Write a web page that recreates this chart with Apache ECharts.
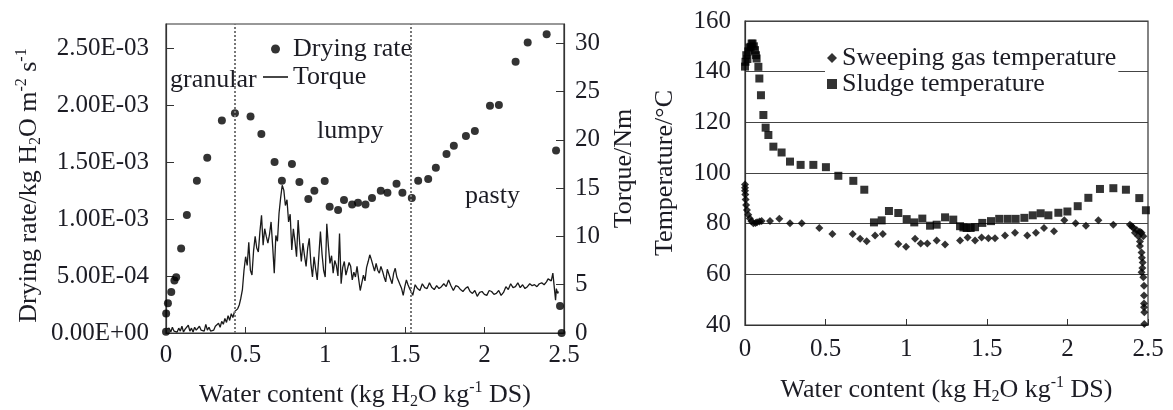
<!DOCTYPE html>
<html><head><meta charset="utf-8">
<script src="https://cdn.jsdelivr.net/npm/echarts@6/dist/echarts.min.js"></script>
<style>html,body{margin:0;padding:0;background:#fff}#c{width:1173px;height:410px}</style>
</head><body><div id="c"></div>
<script>
// ---- data ----
const waterTicks = [0, 0.5, 1, 1.5, 2, 2.5];
const phaseBoundaries = [0.43, 1.54];
const phaseNames = ['granular', 'lumpy', 'pasty'];

const rateWater = [0, 0.001, 0.012, 0.033, 0.053, 0.064, 0.095, 0.131, 0.194, 0.259, 0.351, 0.433, 0.531, 0.599, 0.682, 0.728, 0.791, 0.838, 0.894, 0.932, 0.997, 1.028, 1.081, 1.118, 1.169, 1.206, 1.253, 1.294, 1.349, 1.391, 1.448, 1.485, 1.544, 1.584, 1.647, 1.695, 1.762, 1.808, 1.884, 1.940, 2.035, 2.091, 2.196, 2.272, 2.391, 2.450, 2.475, 2.485];
const rateValue = [0.01e-3, 0.17e-3, 0.26e-3, 0.36e-3, 0.46e-3, 0.49e-3, 0.74e-3, 1.035e-3, 1.336e-3, 1.538e-3, 1.863e-3, 1.927e-3, 1.898e-3, 1.746e-3, 1.5e-3, 1.336e-3, 1.482e-3, 1.325e-3, 1.175e-3, 1.248e-3, 1.333e-3, 1.108e-3, 1.079e-3, 1.167e-3, 1.126e-3, 1.143e-3, 1.126e-3, 1.184e-3, 1.248e-3, 1.231e-3, 1.31e-3, 1.231e-3, 1.184e-3, 1.336e-3, 1.351e-3, 1.45e-3, 1.57e-3, 1.643e-3, 1.728e-3, 1.772e-3, 1.994e-3, 2.0e-3, 2.38e-3, 2.547e-3, 2.62e-3, 1.6e-3, 0.237e-3, 0.0];

const torqueWater = [
  0, 0.01, 0.02, 0.03, 0.04, 0.05, 0.06, 0.07, 0.08, 0.09, 0.1, 0.11, 0.12, 0.13, 0.14, 0.15, 0.16, 0.17, 0.18, 0.19, 0.2, 0.21, 0.22, 0.23, 0.24, 0.25, 0.26, 0.27, 0.28, 0.29, 0.3, 0.31, 0.32, 0.33, 0.34, 0.35, 0.36, 0.37, 0.38, 0.39, 0.4, 0.41, 0.42, 0.43, 0.44,
  0.45, 0.46, 0.47, 0.48, 0.49, 0.50, 0.51, 0.52, 0.53, 0.54, 0.55, 0.56, 0.57, 0.58, 0.59, 0.60, 0.61, 0.62, 0.63, 0.64, 0.65, 0.66, 0.67, 0.68, 0.69, 0.70, 0.71, 0.72, 0.73, 0.74, 0.75, 0.76, 0.77, 0.78, 0.79, 0.80, 0.81, 0.82, 0.83, 0.84, 0.85, 0.86, 0.87, 0.88, 0.89, 0.90, 0.91, 0.92, 0.93, 0.94, 0.95, 0.96, 0.97, 0.98, 0.99,
  1.00, 1.01, 1.02, 1.03, 1.04, 1.05, 1.06, 1.07, 1.08, 1.09, 1.10, 1.11, 1.12, 1.13, 1.14, 1.15, 1.16, 1.17, 1.18, 1.19, 1.20, 1.21, 1.22, 1.23, 1.24, 1.25, 1.26, 1.27, 1.28, 1.29, 1.30, 1.31, 1.32, 1.33, 1.34, 1.35, 1.36, 1.37, 1.38, 1.39, 1.40, 1.41, 1.42, 1.43, 1.44, 1.45, 1.46, 1.47, 1.48, 1.49, 1.50, 1.51, 1.52, 1.53, 1.54, 1.55,
  1.565, 1.58, 1.595, 1.61, 1.625, 1.64, 1.655, 1.67, 1.685, 1.70, 1.715, 1.73, 1.745, 1.76, 1.775, 1.79, 1.805, 1.82, 1.835, 1.85, 1.865, 1.88, 1.895, 1.91, 1.925, 1.94, 1.955, 1.97, 1.985, 2.0, 2.015, 2.03, 2.045, 2.06, 2.075, 2.09, 2.105, 2.12, 2.135, 2.15, 2.165, 2.18, 2.195, 2.21, 2.225, 2.24, 2.255, 2.27, 2.285, 2.30, 2.315, 2.33, 2.345, 2.36, 2.375, 2.39, 2.40, 2.41, 2.42, 2.43, 2.44, 2.447, 2.452, 2.46, 2.465
];
const torqueValue = [
  0.4, 0.2, 0.5, 0.1, 0.6, 0.2, 0.3, 0.1, 0.5, 0.2, 0.7, 0.1, 0.4, 0.3, 0.8, 0.2, 0.5, 0.1, 0.6, 0.3, 0.2, 0.7, 0.3, 0.5, 0.2, 0.9, 0.3, 0.6, 0.2, 0.4, 0.3, 0.7, 0.5, 1.0, 0.6, 1.2, 0.9, 1.5, 1.1, 1.8, 1.3, 2.0, 1.6, 2.2, 2.3,
  2.5, 2.9, 3.6, 4.5, 6.5, 7.9, 7.0, 9.4, 6.5, 6.0, 8.5, 10.0, 8.8, 8.4, 10.5, 12.2, 9.1, 10.8, 10.0, 9.3, 10.2, 11.5, 9.0, 6.2, 10.1, 9.5, 12.4, 14.0, 15.3, 14.8, 13.2, 13.8, 11.5, 12.3, 8.6, 10.8, 9.5, 7.9, 11.7, 9.2, 7.4, 9.3, 8.0, 6.9, 8.8, 9.8, 7.2, 5.8, 7.9, 6.6, 5.5, 8.0, 10.5, 8.2, 6.5,
  5.8, 11.3, 9.0, 7.2, 8.0, 6.2, 7.5, 7.0, 5.9, 10.3, 5.1, 6.8, 7.4, 6.0, 6.2, 7.3, 6.9, 5.5, 6.3, 5.8, 6.9, 5.6, 4.4, 5.2, 6.0, 5.4, 6.8, 7.4, 8.1, 7.6, 7.0, 6.4, 7.2, 6.5, 6.2, 6.9, 6.4, 5.8, 5.3, 6.6, 6.5, 5.6, 5.1, 6.2, 6.7, 5.8, 5.4, 5.0, 4.6, 3.9, 4.8, 5.5, 5.0, 4.6, 4.3, 3.9,
  5.0, 4.6, 4.4, 5.1, 4.7, 4.6, 5.2, 4.7, 4.5, 4.9, 4.6, 4.8, 5.1, 4.8, 5.5, 4.9, 4.4, 4.9, 4.8, 4.5, 4.3, 4.6, 4.8, 4.3, 4.1, 4.4, 3.8, 4.2, 4.3, 4.0, 3.9, 4.4, 4.3, 4.0, 4.1, 4.4, 3.9, 4.2, 4.8, 4.5, 5.1, 4.7, 4.8, 5.2, 4.7, 5.0, 4.6, 4.8, 5.1, 4.9, 5.0, 4.8, 5.1, 5.2, 5.0, 5.3, 5.6, 5.8, 5.4, 6.2, 6.3, 3.4, 4.6, 4.1, 4.3
];

const gasWater = [0, 0, 0, 0.002, 0.004, 0.007, 0.012, 0.02, 0.03, 0.04, 0.052, 0.065, 0.075, 0.09, 0.103, 0.155, 0.213, 0.279, 0.352, 0.461, 0.542, 0.668, 0.714, 0.755, 0.807, 0.855, 0.951, 0.999, 1.055, 1.09, 1.131, 1.189, 1.241, 1.334, 1.381, 1.427, 1.468, 1.51, 1.551, 1.613, 1.675, 1.751, 1.805, 1.855, 1.917, 1.981, 2.051, 2.115, 2.192, 2.285, 2.388, 2.4, 2.409, 2.419, 2.43, 2.44, 2.45, 2.46, 2.471, 2.45, 2.45, 2.46, 2.462, 2.467, 2.465, 2.46, 2.471, 2.475, 2.475, 2.475, 2.475, 2.477, 2.477];
const gasTemp = [95.5, 94.2, 93, 91.5, 89.5, 87.4, 85.4, 83.5, 82, 81, 80.2, 80.3, 80.6, 80.9, 81.1, 81.1, 81.9, 80.2, 80.2, 78.3, 75.9, 75.9, 74, 73.1, 75.3, 75.9, 72, 70.9, 74, 72.2, 72.2, 73.4, 71.8, 73.4, 74.5, 73.4, 74.5, 74.2, 74.2, 75.3, 76.4, 75.3, 76.4, 78.3, 77, 81.3, 80.2, 79.2, 81.3, 79.6, 79.6, 79, 78.3, 76.4, 77.5, 75, 76.8, 76.4, 75, 73, 71.2, 68.6, 66.5, 64.7, 62.5, 60.8, 58.8, 55.5, 51.6, 48.5, 47, 45, 40.4];

const sludgeWater = [0.0, 0.003, 0.008, 0.015, 0.02, 0.028, 0.035, 0.041, 0.047, 0.055, 0.062, 0.068, 0.072, 0.083, 0.089, 0.099, 0.114, 0.128, 0.145, 0.176, 0.227, 0.279, 0.345, 0.424, 0.502, 0.579, 0.672, 0.74, 0.8, 0.848, 0.893, 0.951, 1.003, 1.05, 1.1, 1.148, 1.189, 1.241, 1.292, 1.334, 1.355, 1.375, 1.4, 1.427, 1.472, 1.526, 1.577, 1.629, 1.679, 1.733, 1.785, 1.834, 1.882, 1.944, 2.0, 2.064, 2.13, 2.202, 2.285, 2.363, 2.446, 2.487];
const sludgeTemp = [142, 143.9, 146.5, 145, 148, 149.5, 149.8, 151.1, 151.1, 150, 148.5, 146.5, 145.2, 141.9, 137.3, 130.7, 122.9, 117.9, 115, 110.4, 108.1, 104.5, 103.2, 103.2, 102.3, 98.9, 96.9, 93.4, 80.5, 81.3, 85, 84.2, 81.8, 80.5, 82, 79.2, 79.6, 82.5, 81.6, 79, 78.5, 78.3, 78.3, 78.6, 80.3, 81, 81.9, 81.9, 81.9, 82.3, 83.3, 84.1, 83.3, 84.3, 84.8, 86.9, 90.2, 93.7, 94, 93.4, 90.1, 85.3];

// ---- helpers ----
const FONT = '"Liberation Serif", "Times New Roman", serif';
const INK = '#1c1c24';
const FS = 26, TFS = 25;
const zip = (a, b) => a.map((v, i) => [v, b[i]]);
function sciLabel(v) {
  if (Math.abs(v - Math.round(v / 5e-4) * 5e-4) > 1e-9) return '';
  if (Math.abs(v) < 1e-12) return '0.00E+00';
  const e = Math.floor(Math.log10(v) + 1e-9);
  const m = v / Math.pow(10, e);
  return m.toFixed(2) + 'E' + (e < 0 ? '-' : '+') + String(Math.abs(e)).padStart(2, '0');
}
const xLabel = v => waterTicks.some(t => Math.abs(t - v) < 1e-9) ? String(+v.toFixed(2)) : '';
const richName = {
  n: { fontFamily: FONT, fontSize: FS, color: INK, lineHeight: 30 },
  sub: { fontFamily: FONT, fontSize: 16, color: INK, lineHeight: 16, verticalAlign: 'bottom' },
  sup: { fontFamily: FONT, fontSize: 16, color: INK, lineHeight: 16, verticalAlign: 'top' }
};
const waterName = '{n|Water content (kg H}{sub|2}{n|O kg}{sup|-1}{n| DS)}';

const chart = echarts.init(document.getElementById('c'), null, { renderer: 'canvas' });
const axisLine = { show: true, lineStyle: { color: '#333', width: 1.2 } };

chart.setOption({
  backgroundColor: '#fff',
  animation: false,
  textStyle: { fontFamily: FONT, color: INK },
  grid: [
    { left: 166, top: 24, width: 398, height: 309, outerBoundsMode: 'none', containLabel: false, show: true, borderColor: '#333', borderWidth: 1.2, backgroundColor: 'transparent' },
    { left: 745, top: 21, width: 403, height: 304, outerBoundsMode: 'none', containLabel: false, show: true, borderColor: '#333', borderWidth: 1.2, backgroundColor: 'transparent' }
  ],
  legend: [
    {
      left: 263, top: 36, orient: 'vertical', padding: 0, itemGap: 2,
      itemWidth: 25, itemHeight: 9, symbolKeepAspect: true,
      textStyle: { fontFamily: FONT, fontSize: FS, color: INK, lineHeight: 24 },
      data: [
        { name: 'Drying rate', icon: 'circle' },
        { name: 'Torque', icon: 'path://M0,0 L25,0 L25,1.6 L0,1.6 Z' }
      ]
    },
    {
      left: 825, top: 43, orient: 'vertical', padding: [2, 2, 2, 2], itemGap: 0,
      itemWidth: 10, itemHeight: 10, symbolKeepAspect: true,
      backgroundColor: '#fff',
      textStyle: { fontFamily: FONT, fontSize: FS, color: INK, lineHeight: 24 },
      data: [
        { name: 'Sweeping gas temperature', icon: 'diamond' },
        { name: 'Sludge temperature', icon: 'rect' }
      ]
    }
  ],
  xAxis: [
    {
      gridIndex: 0, type: 'value', min: 0, max: 2.5, interval: 0.5,
      axisLine, splitLine: { show: false },
      axisTick: { show: true, inside: true, length: 6, lineStyle: { color: '#333' } },
      axisLabel: { formatter: xLabel, fontFamily: FONT, fontSize: TFS, color: INK, margin: 10 },
      name: waterName, nameLocation: 'middle', nameGap: 47,
      nameTextStyle: { rich: richName }
    },
    {
      gridIndex: 1, type: 'value', min: 0, max: 2.5, interval: 0.5,
      axisLine, splitLine: { show: false },
      axisTick: { show: true, inside: true, length: 6, lineStyle: { color: '#333' } },
      axisLabel: { formatter: xLabel, fontFamily: FONT, fontSize: TFS, color: INK, margin: 12 },
      name: waterName, nameLocation: 'middle', nameGap: 50,
      nameTextStyle: { rich: richName }
    }
  ],
  yAxis: [
    {
      gridIndex: 0, type: 'value', min: 0, max: 2.71e-3, interval: 5e-4,
      axisLine, splitLine: { show: false },
      axisTick: { show: true, inside: true, length: 8, lineStyle: { color: '#333' } },
      axisLabel: { formatter: sciLabel, fontFamily: FONT, fontSize: TFS, color: INK, margin: 17, showMaxLabel: false },
      name: '{n|Drying rate/kg H}{sub|2}{n|O m}{sup|-2}{n| s}{sup|-1}',
      nameLocation: 'middle', nameGap: 122, nameRotate: 90,
      nameTextStyle: { rich: richName, padding: [0, 14, 0, 0] }
    },
    {
      gridIndex: 0, type: 'value', position: 'right', min: 0, max: 32, interval: 5,
      axisLine, splitLine: { show: false },
      axisTick: { show: true, inside: true, length: 8, lineStyle: { color: '#333' } },
      axisLabel: { formatter: v => (v % 5 === 0 ? String(v) : ''), fontFamily: FONT, fontSize: TFS, color: INK, margin: 11, showMaxLabel: false },
      name: 'Torque/Nm', nameLocation: 'middle', nameGap: 47, nameRotate: 90,
      nameTextStyle: { fontFamily: FONT, fontSize: FS, color: INK, padding: [0, 0, 0, 20] }
    },
    {
      gridIndex: 1, type: 'value', min: 40, max: 160, interval: 20,
      axisLine, axisTick: { show: false },
      splitLine: { show: true, lineStyle: { color: '#444', width: 1 } },
      axisLabel: { fontFamily: FONT, fontSize: TFS, color: INK, margin: 14 },
      name: 'Temperature/°C', nameLocation: 'middle', nameGap: 67, nameRotate: 90,
      nameTextStyle: { fontFamily: FONT, fontSize: FS, color: INK }
    }
  ],
  graphic: [
    { type: 'text', x: 170, y: 80, z: 3, style: { text: phaseNames[0], font: FS + 'px ' + FONT, fill: INK, verticalAlign: 'middle' } },
    { type: 'text', x: 317, y: 131, z: 3, style: { text: phaseNames[1], font: FS + 'px ' + FONT, fill: INK, verticalAlign: 'middle' } },
    { type: 'text', x: 465, y: 196, z: 3, style: { text: phaseNames[2], font: FS + 'px ' + FONT, fill: INK, verticalAlign: 'middle' } }
  ],
  series: [
    {
      name: 'Torque', type: 'line', xAxisIndex: 0, yAxisIndex: 1,
      data: zip(torqueWater, torqueValue), showSymbol: false, symbol: 'none',
      lineStyle: { color: '#1a1a1a', width: 1.3 }, itemStyle: { color: '#1a1a1a' },
      markLine: {
        silent: true, symbol: 'none', label: { show: false },
        lineStyle: { type: 'dotted', color: '#777', width: 2 },
        data: phaseBoundaries.map(x => ({ xAxis: x }))
      }
    },
    {
      name: 'Drying rate', type: 'scatter', xAxisIndex: 0, yAxisIndex: 0, clip: false,
      data: zip(rateWater, rateValue), symbol: 'circle', symbolSize: 8,
      itemStyle: { color: '#000' }
    },
    {
      name: 'Sweeping gas temperature', type: 'scatter', xAxisIndex: 1, yAxisIndex: 2, clip: false,
      data: zip(gasWater, gasTemp), symbol: 'diamond', symbolSize: 8,
      itemStyle: { color: '#000' }
    },
    {
      name: 'Sludge temperature', type: 'scatter', xAxisIndex: 1, yAxisIndex: 2, clip: false,
      data: zip(sludgeWater, sludgeTemp), symbol: 'rect', symbolSize: 8,
      itemStyle: { color: '#000' }
    }
  ]
});
</script>
</body></html>
